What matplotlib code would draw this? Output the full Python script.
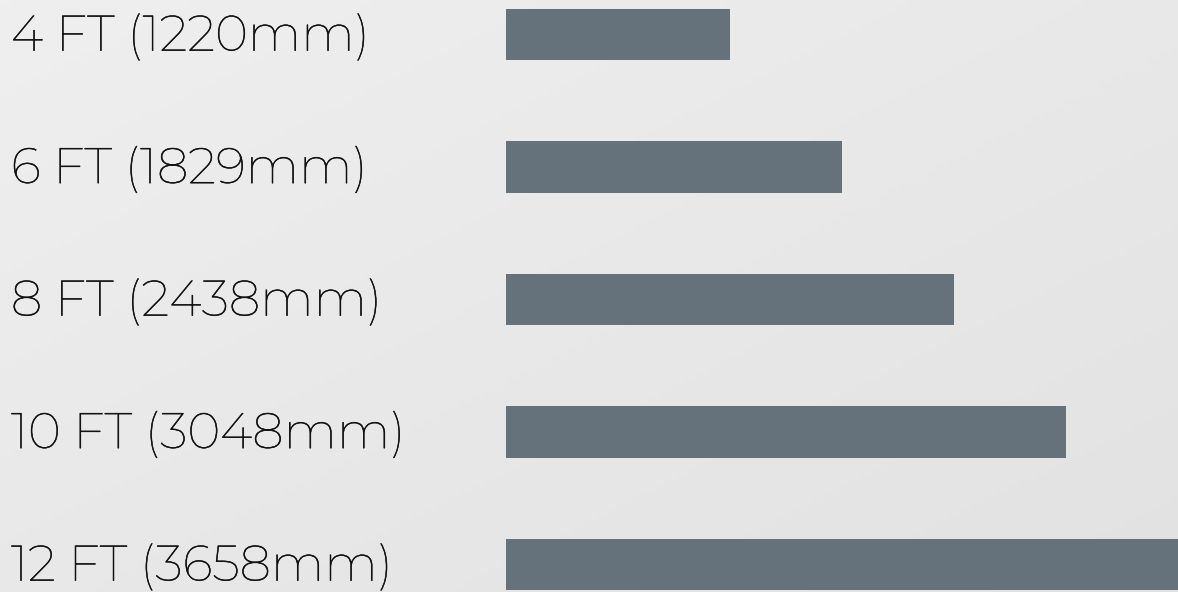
import numpy as np
import matplotlib
matplotlib.use('Agg')
import matplotlib.pyplot as plt
import matplotlib.transforms as mtransforms
import matplotlib.patheffects as pe

# data
labels = ['4 FT (1220mm)', '6 FT (1829mm)', '8 FT (2438mm)', '10 FT (3048mm)', '12 FT (3658mm)']
lengths_ft = [4, 6, 8, 10, 12]

bar_col = '#65717b'
txt_col = '#111111'

fig = plt.figure(figsize=(11.78, 5.92), dpi=100)

# faint light-grey gradient behind everything
bgax = fig.add_axes([0, 0, 1, 1], zorder=-1)
gx, gy = np.meshgrid(np.linspace(0, 1, 200), np.linspace(0, 1, 100))
grad = 0.5 * gx + 0.5 * gy
bgax.imshow(grad, cmap=matplotlib.colors.LinearSegmentedColormap.from_list('bg', ['#efefef', '#e2e2e2']),
            aspect='auto', extent=[0, 1, 1, 0])
bgax.axis('off')

ax = fig.add_axes([506 / 1178, 0, 1 - 506 / 1178, 1])
ax.patch.set_alpha(0)

ypos = np.arange(len(labels))
ax.barh(ypos, lengths_ft, height=0.385, color=bar_col, linewidth=0)

ax.set_xlim(0, 12)
ax.set_ylim(4 + 27.5 / 132.5, -34.5 / 132.5)
ax.axis('off')

trans = mtransforms.blended_transform_factory(fig.transFigure, ax.transData)
for y, lab in zip(ypos, labels):
    ax.text(11 / 1178, y + 0.02, lab, transform=trans, ha='left', va='center',
            fontsize=36, family='Montserrat', color=txt_col,
            path_effects=[pe.withStroke(linewidth=0.35, foreground=txt_col)])

fig.savefig('out.png', dpi=100)
